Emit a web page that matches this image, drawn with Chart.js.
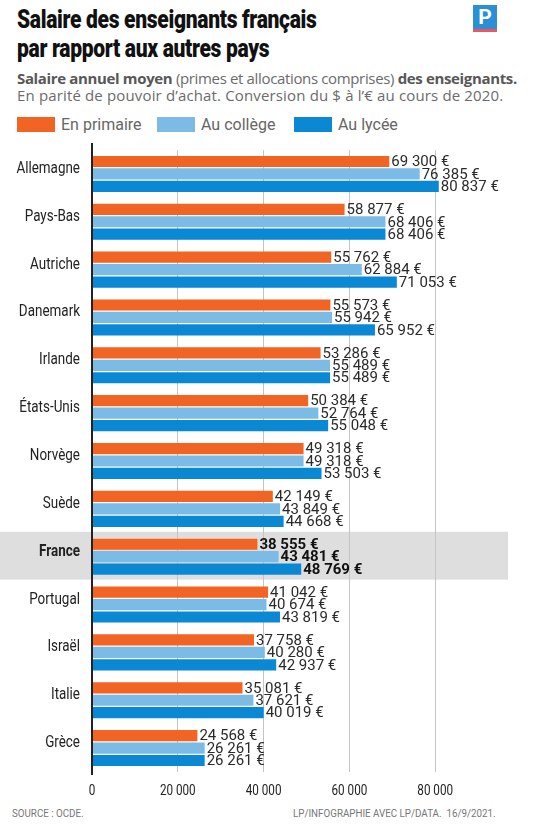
<!DOCTYPE html>
<html lang="fr">
<head>
<meta charset="utf-8">
<script src="https://cdn.jsdelivr.net/npm/chart.js@4"></script>
<style>
    body { margin: 0; width: 542px; height: 833px; background: #fff; position: relative; overflow: hidden; font-family: Roboto, "Liberation Sans", sans-serif; }
    .title { position: absolute; left: 17px; top: 5px; font-family: Roboto, sans-serif; font-weight: 900; font-size: 26px; line-height: 29px; color: #111; letter-spacing: -0.4px; transform: scaleX(0.81); transform-origin: left top; white-space: nowrap; }
    .logo { position: absolute; left: 473px; top: 5px; width: 24px; height: 24px; background: #2a8fd4; color: #fff; font-family: Roboto, sans-serif; font-weight: bold; font-size: 21px; line-height: 25px; text-align: center; border-bottom: 3px solid #f0545c; }
    .sub { position: absolute; left: 17px; top: 70px; font-family: "Open Sans", sans-serif; font-size: 15px; line-height: 17px; color: #6b6b6b; white-space: nowrap; }
    .sub b { color: #575757; }
    .sub .l1 { letter-spacing: -0.35px; }
    .sub .l2 { letter-spacing: 0.15px; }
    .legend { position: absolute; left: 17px; top: 115px; font-size: 16px; color: #666; white-space: nowrap; }
    .legend span.box { display: inline-block; width: 38px; height: 15px; vertical-align: -2px; margin-right: 6px; }
    .legend span.item { position: absolute; top: 0; }
    .footer { position: absolute; top: 806px; font-size: 11.5px; color: #777; white-space: nowrap; transform: scaleX(0.85); transform-origin: left top; }
    #wrap { position: absolute; left: 0; top: 140px; width: 542px; height: 662px; }
</style>
</head>
<body>
<div class="title">Salaire des enseignants français<br>par rapport aux autres pays</div>
<div class="logo">P</div>
<div class="sub"><span class="l1"><b>Salaire annuel moyen</b> (primes et allocations comprises) <b>des enseignants.</b></span><br><span class="l2">En parité de pouvoir d’achat. Conversion du $ à l’€ au cours de 2020.</span></div>
<div class="legend">
    <span class="item" style="left:0"><span class="box" style="background:#f26424"></span>En primaire</span>
    <span class="item" style="left:140px"><span class="box" style="background:#7cbbe6"></span>Au collège</span>
    <span class="item" style="left:277px"><span class="box" style="background:#0a88d4"></span>Au lycée</span>
</div>
<div id="wrap"><canvas id="chart"></canvas></div>
<div class="footer" style="left:12px">SOURCE : OCDE.</div>
<div class="footer" style="left:293px">LP/INFOGRAPHIE AVEC LP/DATA.&nbsp; 16/9/2021.</div>

<script>
const countries = ['Allemagne', 'Pays-Bas', 'Autriche', 'Danemark', 'Irlande', 'États-Unis', 'Norvège', 'Suède', 'France', 'Portugal', 'Israël', 'Italie', 'Grèce'];
const primaire = [69300, 58877, 55762, 55573, 53286, 50384, 49318, 42149, 38555, 41042, 37758, 35081, 24568];
const college = [76385, 68406, 62884, 55942, 55489, 52764, 49318, 43849, 43481, 40674, 40280, 37621, 26261];
const lycee = [80837, 68406, 71053, 65952, 55489, 55048, 53503, 44668, 48769, 43819, 42937, 40019, 26261];
const xTicks = [0, 20000, 40000, 60000, 80000];
const highlight = 'France';

const fmt = v => String(v).replace(/\B(?=(\d{3})+(?!\d))/g, ' ');

// texte étroit (pas de police condensée installée)
function narrowText(ctx, text, x, y, squeeze) {
    ctx.save();
    ctx.translate(x, y);
    ctx.scale(squeeze, 1);
    ctx.fillText(text, 0, 0);
    ctx.restore();
}

// bande grise derrière la France
const bandPlugin = {
    id: 'band',
    beforeDraw(chart) {
        const { ctx, scales: { y } } = chart;
        const c = y.getPixelForValue(countries.indexOf(highlight));
        const h = y.getPixelForValue(1) - y.getPixelForValue(0);
        ctx.save();
        ctx.fillStyle = '#dedede';
        ctx.fillRect(0, c - h / 2 - 1, 508, h);
        ctx.restore();
    }
};

// libellés des axes, axe vertical et valeurs
const labelPlugin = {
    id: 'labels',
    afterDatasetsDraw(chart) {
        const { ctx, chartArea, scales: { x, y } } = chart;
        ctx.save();

        ctx.strokeStyle = '#222';
        ctx.lineWidth = 2;
        ctx.beginPath();
        ctx.moveTo(chartArea.left, chartArea.top - 7);
        ctx.lineTo(chartArea.left, chartArea.bottom + 3);
        ctx.stroke();

        ctx.fillStyle = '#222';
        ctx.textBaseline = 'middle';
        ctx.textAlign = 'right';
        countries.forEach((c, i) => {
            ctx.font = (c === highlight ? 'bold ' : '') + '16px Roboto, sans-serif';
            narrowText(ctx, c, 80, y.getPixelForValue(i) - 5, 0.84);
        });

        ctx.textAlign = 'center';
        ctx.font = '15px Roboto, sans-serif';
        xTicks.forEach(v => narrowText(ctx, fmt(v), x.getPixelForValue(v), chartArea.bottom + 19, 0.78));

        ctx.textAlign = 'left';
        chart.data.datasets.forEach((ds, di) => {
            chart.getDatasetMeta(di).data.forEach((bar, i) => {
                const bold = countries[i] === highlight;
                ctx.font = (bold ? 'bold ' : '') + '15px Roboto, sans-serif';
                ctx.fillStyle = bold ? '#111' : '#2a2a2a';
                ctx.fillText(fmt(ds.data[i]) + ' €', bar.x + 2, bar.y + 1);
            });
        });
        ctx.restore();
    }
};

new Chart(document.getElementById('chart'), {
    type: 'bar',
    data: {
        labels: countries,
        datasets: [
            { label: 'En primaire', data: primaire, backgroundColor: '#f26424' },
            { label: 'Au collège', data: college, backgroundColor: '#7cbbe6' },
            { label: 'Au lycée', data: lycee, backgroundColor: '#0a88d4' }
        ]
    },
    options: {
        indexAxis: 'y',
        responsive: true,
        maintainAspectRatio: false,
        animation: false,
        categoryPercentage: 0.78,
        barPercentage: 0.9,
        layout: { padding: { top: 10, right: 21, bottom: 0, left: 0 } },
        plugins: {
            legend: { display: false },
            tooltip: { enabled: false }
        },
        scales: {
            x: {
                min: 0,
                max: 100000,
                afterBuildTicks: scale => { scale.ticks = xTicks.map(v => ({ value: v })); },
                afterFit: scale => { scale.height = 30; },
                border: { display: false },
                grid: { color: '#c4c4c4', lineWidth: 1, drawTicks: false },
                ticks: { display: false }
            },
            y: {
                afterFit: scale => { scale.width = 92; },
                border: { display: false },
                grid: { display: false },
                ticks: { display: false }
            }
        }
    },
    plugins: [bandPlugin, labelPlugin]
});
</script>
</body>
</html>
